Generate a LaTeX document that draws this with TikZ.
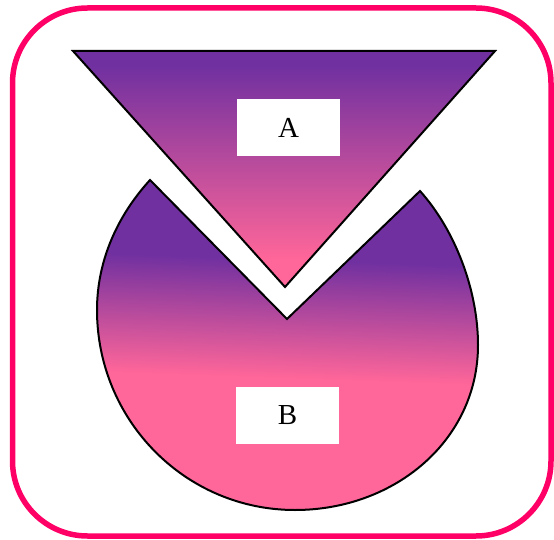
\documentclass[tikz,border=0pt]{standalone}
\usepackage{fontspec}
\setmainfont{Liberation Serif}
\usepackage{tikz}
\usetikzlibrary{calc}

\definecolor{violetA}{HTML}{7030A0}
\definecolor{pinkB}{HTML}{FF6699}
\definecolor{frameRed}{HTML}{FF0066}

% shadings: path box runs from 25bp (bottom) to 75bp (top)
\pgfdeclareverticalshading{shadeA}{100bp}{color(0bp)=(pinkB); color(31bp)=(pinkB); color(72bp)=(violetA); color(100bp)=(violetA)}
\pgfdeclareverticalshading{shadeB}{100bp}{color(0bp)=(pinkB); color(45bp)=(pinkB); color(63bp)=(violetA); color(100bp)=(violetA)}

\tikzset{
    frame/.style={draw=frameRed, line width=5.5pt, rounded corners=75pt},
    piece/.style={draw=black, line width=2pt, line join=miter},
    tag/.style={fill=white, inner sep=0pt, minimum width=103pt, minimum height=57pt,
        font=\fontsize{29}{34}\selectfont}
}

\begin{document}
\begin{tikzpicture}[x=1pt, y=-1pt]
    \useasboundingbox (0,0) rectangle (554,540);
    \draw[frame] (12.5,8) rectangle (551,536);

    % upper piece
    \draw[piece, shading=shadeA] (73,51) -- (495,51) -- (285,287) -- cycle;

    % lower piece with the notch
    \draw[piece, shading=shadeB, shading angle=-2]
        (150,180) -- (287,319) -- (420,191)
        .. controls (455,230) and (478,290) .. (478,345)
        .. controls (478,440) and (395,510) .. (295,510)
        .. controls (185,510) and (97,420) .. (97,310)
        .. controls (97,260) and (118,215) .. (150,180) -- cycle;

    \node[tag] (labelA) at (288.5,127.5) {A};
    \node[tag] (labelB) at (287.5,415) {B};
\end{tikzpicture}
\end{document}
